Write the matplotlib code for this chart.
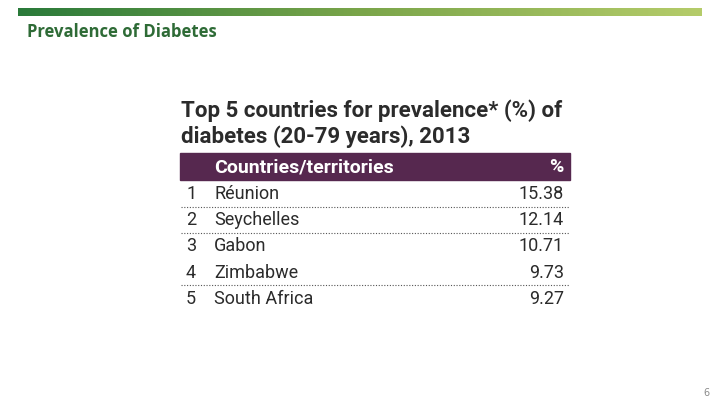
import numpy as np
import matplotlib
matplotlib.use("Agg")
import matplotlib.pyplot as plt
from matplotlib.colors import LinearSegmentedColormap

slide_title = "Prevalence of Diabetes"
table_title = ["Top 5 countries for prevalence* (%) of", "diabetes (20-79 years), 2013"]
header = ["Countries/territories", "%"]
ranks = [1, 2, 3, 4, 5]
countries = ["Réunion", "Seychelles", "Gabon", "Zimbabwe", "South Africa"]
values = [15.38, 12.14, 10.71, 9.73, 9.27]
dotted_after = [1, 2, 4]  # rows followed by a dotted rule
page_no = "6"

fig = plt.figure(figsize=(7.2, 4.05), dpi=100)
ax = fig.add_axes([0, 0, 1, 1])

# green gradient band at the top
cmap = LinearSegmentedColormap.from_list("band", ["#2a7a3a", "#7aa54a", "#b5cc6a"])
ax.imshow(np.linspace(0, 1, 256)[None, :], cmap=cmap, aspect="auto",
          extent=(18, 702, 16, 8), zorder=1)
ax.set_xlim(0, 720)
ax.set_ylim(405, 0)
ax.axis("off")

ax.text(27, 32, slide_title, fontsize=12, color="#2e6b36", fontweight="bold",
        family="Open Sans", va="center", ha="left")

tfont = "Roboto"
ax.text(181, 111, table_title[0], fontsize=16, fontweight="bold", color="#2b2b2b",
        family=tfont, va="center", ha="left")
ax.text(181, 137, table_title[1], fontsize=16, fontweight="bold", color="#2b2b2b",
        family=tfont, va="center", ha="left")

# header band
ax.add_patch(plt.Rectangle((180, 153), 390, 27, color="#56284f", zorder=2))
ax.text(214, 167, header[0], fontsize=14, fontweight="bold", color="white",
        family=tfont, va="center", ha="left", zorder=3)
ax.text(564, 167, header[1], fontsize=14, fontweight="bold", color="white",
        family=tfont, va="center", ha="right", zorder=3)

row_y0, row_h = 194, 26.2
for i, (r, c, v) in enumerate(zip(ranks, countries, values)):
    y = row_y0 + i * row_h
    ax.text(186, y, str(r), fontsize=13, color="#2b2b2b", family=tfont,
            va="center", ha="left")
    ax.text(214, y, c, fontsize=13, color="#2b2b2b", family=tfont,
            va="center", ha="left")
    ax.text(564, y, f"{v:.2f}", fontsize=13, color="#2b2b2b", family=tfont,
            va="center", ha="right")
    if r in dotted_after:
        ax.plot([181, 569], [y + 12.5, y + 12.5], color="#555555", lw=0.8,
                linestyle=(0, (1, 1.5)))

ax.text(710, 393, page_no, fontsize=7, color="#8a8a8a", va="center", ha="right")

fig.savefig("out.png", dpi=100, facecolor="white")
